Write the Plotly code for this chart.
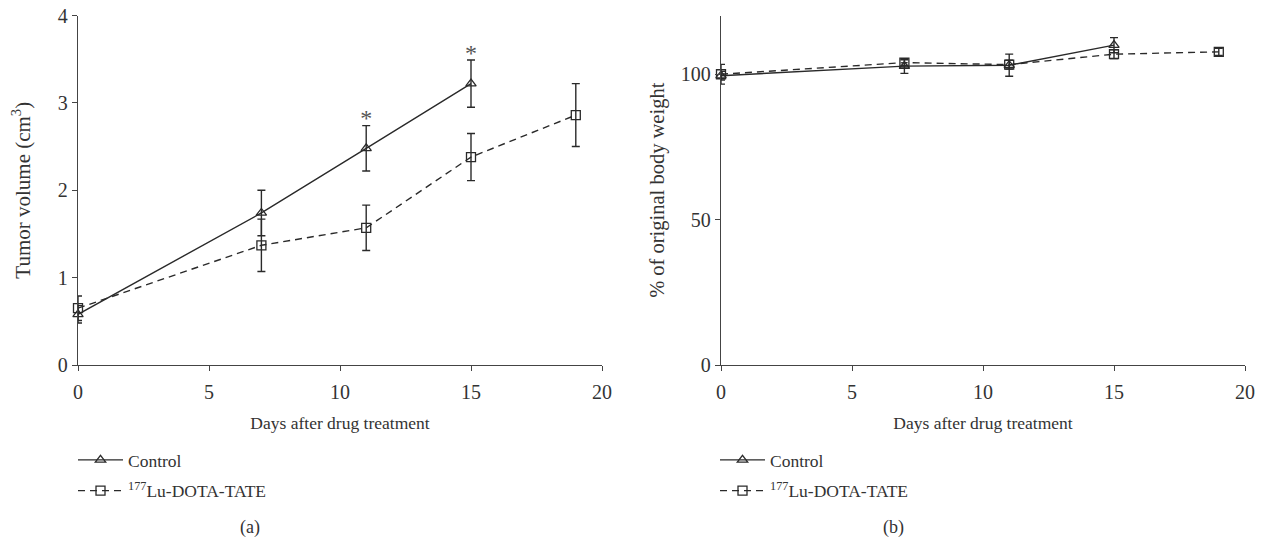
import plotly.graph_objects as go

# ---- data ----
days_ctrl = [0, 7, 11, 15]
days_lu = [0, 7, 11, 15, 19]

vol_ctrl = [0.58, 1.74, 2.48, 3.22]
vol_ctrl_err = [0.10, 0.26, 0.26, 0.27]
vol_lu = [0.65, 1.37, 1.57, 2.38, 2.86]
vol_lu_err = [0.14, 0.30, 0.26, 0.27, 0.36]
sig_days = [11, 15]

bw_ctrl = [99.5, 102.8, 103.1, 110.0]
bw_ctrl_err = [1.5, 2.5, 3.8, 2.6]
bw_lu = [100.0, 104.0, 103.3, 106.9, 107.7]
bw_lu_err = [3.4, 1.0, 1.5, 1.5, 1.2]

x_ticks = [0, 5, 10, 15, 20]
vol_ticks = [0, 1, 2, 3, 4]
bw_ticks = [0, 50, 100]

ctrl_name = "Control"
lu_name = "<sup>177</sup>Lu-DOTA-TATE"

# ---- style ----
FONT = "Liberation Serif"
INK = "#2a2a2a"
AX = "#444444"
OFF = 8                      # page body margin
W, H = 1266 - OFF, 541 - OFF

def px(sx):
    return (sx - OFF) / W

def py(sy):
    return (H - (sy - OFF)) / H

fig = go.Figure()

def add_pair(xref, yref, legend, yc, yce, yl, yle):
    fig.add_trace(go.Scatter(
        x=days_ctrl, y=yc, mode="lines+markers", name=ctrl_name,
        line=dict(color=INK, width=1.4, dash="solid"),
        marker=dict(symbol="triangle-up-open", size=9, color=INK, line=dict(width=1.3)),
        error_y=dict(type="data", array=yce, visible=True, color=INK, thickness=1.4, width=4),
        xaxis=xref, yaxis=yref, legend=legend, legendgroup=legend + "c",
        cliponaxis=False))
    fig.add_trace(go.Scatter(
        x=days_lu, y=yl, mode="lines+markers", name=lu_name,
        line=dict(color=INK, width=1.4, dash="7px,5px"),
        marker=dict(symbol="square-open", size=9, color=INK, line=dict(width=1.3)),
        error_y=dict(type="data", array=yle, visible=True, color=INK, thickness=1.4, width=4),
        xaxis=xref, yaxis=yref, legend=legend, legendgroup=legend + "l",
        cliponaxis=False))

add_pair("x", "y", "legend", vol_ctrl, vol_ctrl_err, vol_lu, vol_lu_err)
add_pair("x2", "y2", "legend2", bw_ctrl, bw_ctrl_err, bw_lu, bw_lu_err)

# significance asterisks above the control error bars
sig_y = [vol_ctrl[days_ctrl.index(d)] + vol_ctrl_err[days_ctrl.index(d)] + 0.06 for d in sig_days]
fig.add_trace(go.Scatter(x=sig_days, y=sig_y, mode="text", text=["*"] * len(sig_days),
                         textfont=dict(family=FONT, size=24, color="#555"),
                         showlegend=False, xaxis="x", yaxis="y", cliponaxis=False))

ydom = [py(365), py(15.5)]
axis_common = dict(showline=True, linecolor=AX, linewidth=1.3, ticks="outside",
                   ticklen=5, tickwidth=1.3, tickcolor=AX, showgrid=False, zeroline=False,
                   automargin=False, ticklabeloverflow="allow",
                   tickfont=dict(family=FONT, size=20, color="#333"))
XT = 17.5

fig.update_layout(
    width=W, height=H, margin=dict(l=0, r=0, t=0, b=0, autoexpand=False),
    paper_bgcolor="white", plot_bgcolor="white",
    font=dict(family=FONT, color="#333"),
    xaxis=dict(domain=[px(78), px(602)], range=[0, 20], tickvals=x_ticks, anchor="y",
               ticklabelstandoff=4,
               title=dict(text="Days after drug treatment", font=dict(family=FONT, size=XT), standoff=14),
               **axis_common),
    yaxis=dict(domain=ydom, range=[0, 4], tickvals=vol_ticks, anchor="x",
               title=dict(text="Tumor volume (cm<sup>3</sup>)", font=dict(family=FONT, size=21), standoff=26),
               **axis_common),
    xaxis2=dict(domain=[px(721), px(1245)], range=[0, 20], tickvals=x_ticks, anchor="y2",
                ticklabelstandoff=4,
                title=dict(text="Days after drug treatment", font=dict(family=FONT, size=XT), standoff=14),
                **axis_common),
    yaxis2=dict(domain=ydom, range=[0, 120.2], tickvals=bw_ticks, anchor="x2",
                title=dict(text="% of original body weight", font=dict(family=FONT, size=20.5), standoff=10),
                **axis_common),
    legend=dict(x=px(73), y=py(442), xanchor="left", yanchor="top",
                font=dict(family=FONT, size=XT, color="#333"), bgcolor="rgba(0,0,0,0)",
                tracegroupgap=5, itemwidth=45),
    legend2=dict(x=px(715), y=py(442), xanchor="left", yanchor="top",
                 font=dict(family=FONT, size=XT, color="#333"), bgcolor="rgba(0,0,0,0)",
                 tracegroupgap=5, itemwidth=45),
    annotations=[
        dict(text="(a)", x=px(250), y=py(527), xref="paper", yref="paper",
             xanchor="center", yanchor="middle",
             showarrow=False, font=dict(family=FONT, size=18, color="#333")),
        dict(text="(b)", x=px(893), y=py(527), xref="paper", yref="paper",
             xanchor="center", yanchor="middle",
             showarrow=False, font=dict(family=FONT, size=18, color="#333")),
    ],
)

fig.write_html("out.html")
